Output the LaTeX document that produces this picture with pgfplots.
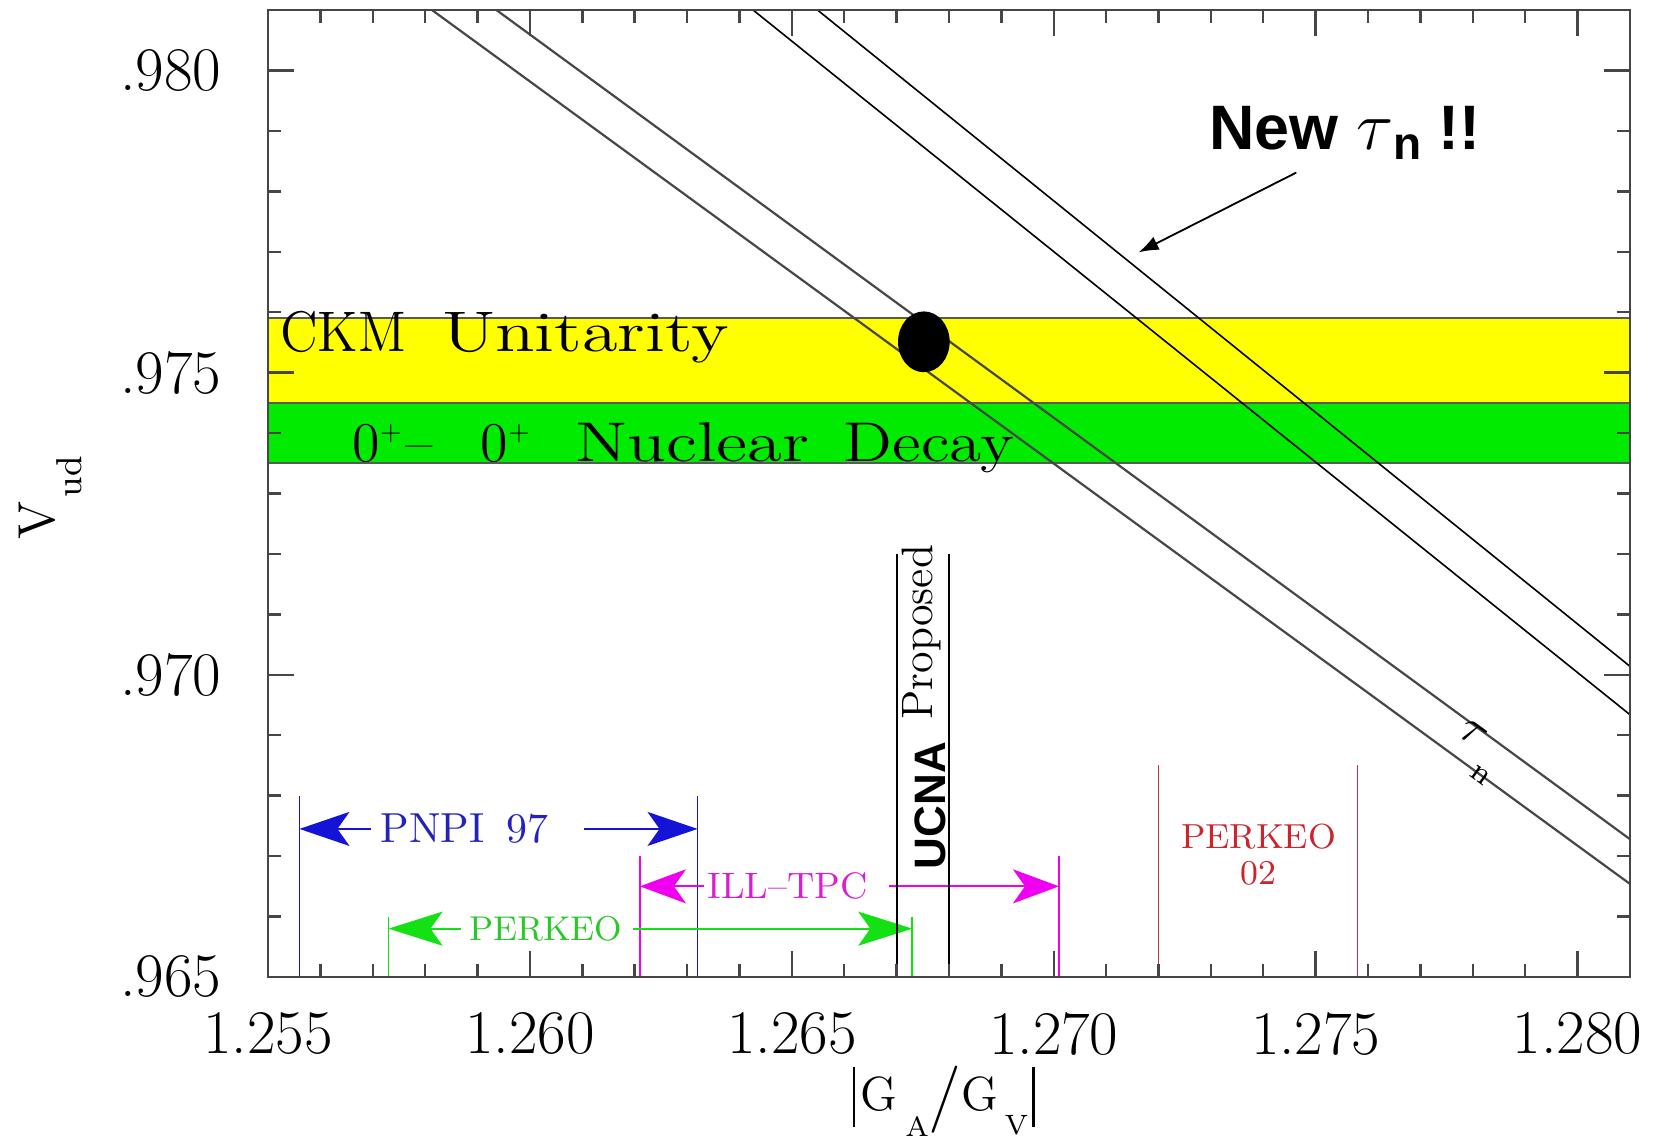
\documentclass[border=0pt]{standalone}
\usepackage{fontspec}
\usepackage{graphicx}
\usepackage{pgfplots}
\pgfplotsset{compat=1.18}
\usetikzlibrary{arrows.meta}
\newfontfamily\hv{Liberation Sans}
\definecolor{ygold}{RGB}{255,255,0}
\definecolor{bgreen}{RGB}{0,235,0}
\definecolor{pblue}{RGB}{20,20,215}
\definecolor{pbluet}{RGB}{35,35,185}
\definecolor{pmag}{RGB}{240,0,240}
\definecolor{pmagt}{RGB}{220,30,210}
\definecolor{pgreen}{RGB}{20,225,20}
\definecolor{pgreent}{RGB}{40,200,40}
\definecolor{pred}{RGB}{200,50,60}
\definecolor{predt}{RGB}{205,35,45}
\definecolor{axgray}{RGB}{70,70,70}
\tikzset{bigarrow/.style={-{Stealth[length=#1,width=8.5pt,inset=3pt]}}}
\begin{document}
\begin{tikzpicture}
\useasboundingbox (-67pt,-40pt) rectangle (348.5pt,244.25pt);
\begin{axis}[
  at={(0pt,0pt)}, anchor=south west,
  scale only axis, width=340.5pt, height=241.75pt,
  xmin=1.255, xmax=1.281, ymin=0.965, ymax=0.981,
  scaled ticks=false,
  xtick={1.255,1.260,1.265,1.270,1.275,1.280},
  xticklabels={1.255,1.260,1.265,1.270,1.275,1.280},
  ytick={0.965,0.970,0.975,0.980},
  yticklabels={.965,.970,.975,.980},
  minor x tick num=4, minor y tick num=4,
  tick align=inside, xtick pos=both, ytick pos=both,
  xticklabel pos=left, yticklabel pos=left,
  major tick length=6.5pt, minor tick length=3.3pt,
  tick style={axgray, line width=0.6pt},
  axis line style={axgray, line width=0.7pt},
  axis on top,
  ticklabel style={font=\fontsize{15.5}{16}\selectfont, inner sep=0pt},
  xticklabel style={yshift=-8.7pt},
  yticklabel style={xshift=-11.5pt},
  xlabel={\fontsize{12}{12}\selectfont\rule[-4.25pt]{0.6pt}{15pt}\hspace{1.3pt}G\hspace{2pt}\raisebox{-6.6pt}{\fontsize{7}{7}\selectfont A}\raisebox{-1.5pt}{\scalebox{1.4}{/}}G\hspace{1.5pt}\raisebox{-6.2pt}{\fontsize{7}{7}\selectfont V}\hspace{1pt}\rule[-4.25pt]{0.6pt}{15pt}},
  xlabel style={at={(axis description cs:0.42878,-0.13754)}, anchor=base west, inner sep=0pt},
  ylabel={\fontsize{13}{13}\selectfont V\hspace{1pt}\raisebox{-6.75pt}{\fontsize{9}{9}\selectfont ud}},
  ylabel style={at={(axis description cs:-0.15639,0.45191)}, anchor=base west, inner sep=0pt},
]
% bands
\addplot[fill=ygold, draw=none] coordinates {(1.255,0.9745) (1.281,0.9745) (1.281,0.9759) (1.255,0.9759)} -- cycle;
\addplot[fill=bgreen, draw=none] coordinates {(1.255,0.9735) (1.281,0.9735) (1.281,0.9745) (1.255,0.9745)} -- cycle;
\addplot[black!65, line width=0.55pt] coordinates {(1.255,0.9759) (1.281,0.9759)};
\addplot[black!65, line width=0.5pt] coordinates {(1.255,0.9745) (1.281,0.9745)};
\addplot[black!65, line width=0.5pt] coordinates {(1.255,0.9735) (1.281,0.9735)};
% band texts
\node[anchor=base west, inner sep=0pt, font=\fontsize{14.3}{15}\selectfont] at (axis cs:1.25522,0.97535) {\scalebox{0.93}[1]{CKM}\hspace{9pt}\scalebox{1.27}[1]{Unitarity}};
\node[anchor=base west, inner sep=0pt, font=\fontsize{14}{15}\selectfont] at (axis cs:1.2566,0.97353) {0\textsuperscript{\scalebox{0.7}{+}}\hspace{0.5pt}\textendash\hspace{12pt}0\textsuperscript{\scalebox{0.7}{+}}\hspace{11pt}\scalebox{1.27}[1]{Nuclear}\hspace{8.5pt}\scalebox{1.17}[1]{Decay}};
% old tau_n band
\addplot[black!72, line width=0.55pt] coordinates {(1.25936,0.981) (1.281,0.96728)};
\addplot[black!72, line width=0.55pt] coordinates {(1.25813,0.981) (1.281,0.96654)};
% new tau_n band
\addplot[black, line width=0.4pt] coordinates {(1.26426,0.981) (1.281,0.96934)};
\addplot[black, line width=0.4pt] coordinates {(1.26549,0.981) (1.281,0.97014)};
% dot
\addplot[only marks, mark=*, mark size=7.4pt, mark options={xscale=0.845, fill=black, draw=black}] coordinates {(1.26752,0.97551)};
% PNPI 97
\addplot[pblue, line width=0.45pt] coordinates {(1.2556,0.965) (1.2556,0.968)};
\addplot[pblue, line width=0.45pt] coordinates {(1.2632,0.965) (1.2632,0.968)};
\addplot[pblue, line width=0.5pt, bigarrow=12.5pt] coordinates {(1.25696,0.96745) (1.2556,0.96745)};
\addplot[pblue, line width=0.5pt, bigarrow=12.5pt] coordinates {(1.26103,0.96745) (1.2632,0.96745)};
\node[pbluet, inner sep=0pt, font=\fontsize{10.5}{11}\selectfont] at (axis cs:1.25875,0.96745) {PNPI\hspace{5.5pt}97};
% ILL-TPC
\addplot[pmag, line width=0.45pt] coordinates {(1.2621,0.965) (1.2621,0.967)};
\addplot[pmag, line width=0.45pt] coordinates {(1.2701,0.965) (1.2701,0.967)};
\addplot[pmag, line width=0.5pt, bigarrow=11.5pt] coordinates {(1.26333,0.9665) (1.2621,0.9665)};
\addplot[pmag, line width=0.5pt, bigarrow=11.5pt] coordinates {(1.26686,0.9665) (1.2701,0.9665)};
\node[pmagt, inner sep=0pt, font=\fontsize{9.2}{10}\selectfont] at (axis cs:1.26492,0.9665) {ILL\textendash TPC};
% PERKEO
\addplot[pgreen, line width=0.45pt] coordinates {(1.2573,0.965) (1.2573,0.966)};
\addplot[pgreen, line width=0.45pt] coordinates {(1.2673,0.965) (1.2673,0.966)};
\addplot[pgreen, line width=0.5pt, bigarrow=13.5pt] coordinates {(1.25868,0.9658) (1.2573,0.9658)};
\addplot[pgreen, line width=0.5pt, bigarrow=13.5pt] coordinates {(1.26196,0.9658) (1.2673,0.9658)};
\node[pgreent, inner sep=0pt, font=\fontsize{8.6}{9}\selectfont] at (axis cs:1.2603,0.9658) {PERKEO};
% PERKEO 02
\addplot[pred, line width=0.45pt] coordinates {(1.2720,0.965) (1.2720,0.9685)};
\addplot[pred, line width=0.45pt] coordinates {(1.2758,0.965) (1.2758,0.9685)};
\node[predt, inner sep=0pt, font=\fontsize{8.7}{9}\selectfont] at (axis cs:1.27391,0.96733) {PERKEO};
\node[predt, inner sep=0pt, font=\fontsize{8.7}{9}\selectfont] at (axis cs:1.27391,0.96672) {02};
% UCNA proposed
\addplot[black, line width=0.5pt] coordinates {(1.2670,0.965) (1.2670,0.972)};
\addplot[black, line width=0.5pt] coordinates {(1.2680,0.965) (1.2680,0.972)};
\node[rotate=90, anchor=base west, inner sep=0pt, font=\hv\bfseries\fontsize{11}{11}\selectfont] at (axis cs:1.26794,0.96677) {UCNA};
\node[rotate=90, anchor=base west, inner sep=0pt, font=\fontsize{11}{11}\selectfont] at (axis cs:1.26769,0.96925) {Proposed};
% tau_n label on old band
\node[rotate=-36, inner sep=0pt, font=\fontsize{12}{12}\selectfont] at (axis cs:1.27806,0.96872) {$\tau$\hspace{2pt}\raisebox{-6.4pt}{\fontsize{8}{8}\selectfont n}};
% New tau_n annotation
\node[anchor=base west, inner sep=0pt, font=\hv\bfseries\fontsize{15.7}{16}\selectfont] at (axis cs:1.27296,0.97869) {New \raisebox{0pt}{\fontsize{17}{17}\selectfont$\tau$}\raisebox{-2.5pt}{\fontsize{11.5}{12}\selectfont n} !!};
\addplot[black, line width=0.45pt, -{Latex[length=5pt,width=3.6pt]}] coordinates {(1.27463,0.97831) (1.27162,0.97699)};
\end{axis}
\end{tikzpicture}
\end{document}
